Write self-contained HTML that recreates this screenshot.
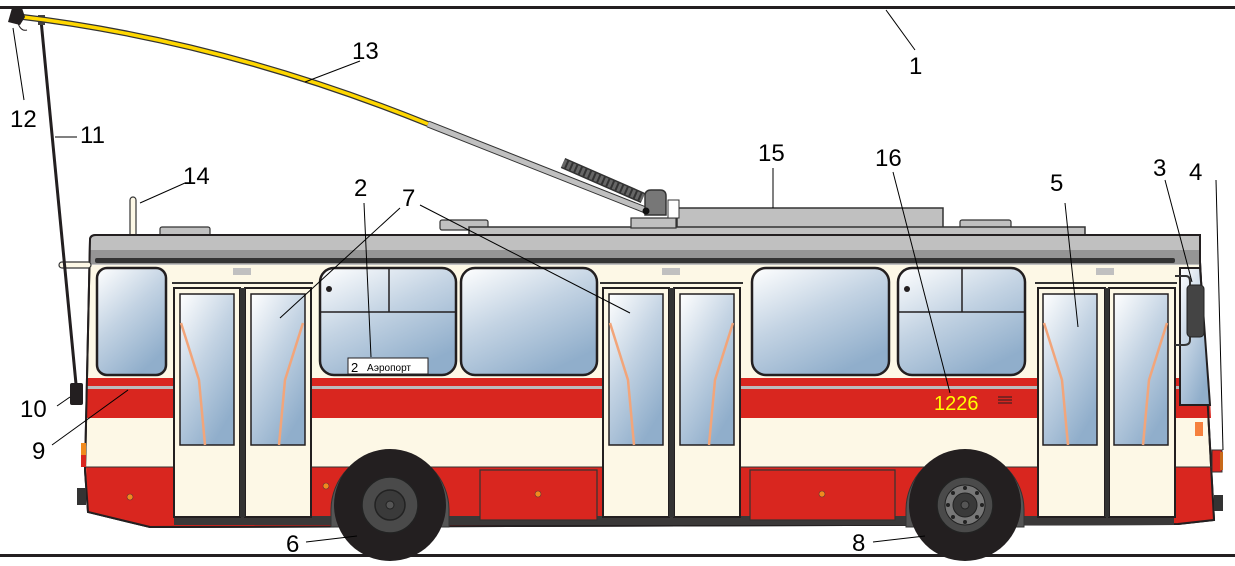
<!DOCTYPE html>
<html><head><meta charset="utf-8"><style>
html,body{margin:0;padding:0;background:#fff;}
svg{display:block;}
text{font-family:"Liberation Sans",sans-serif;}
</style></head><body>
<svg width="1235" height="566" viewBox="0 0 1235 566" xmlns="http://www.w3.org/2000/svg">
<defs>
<linearGradient id="gl" x1="0" y1="0" x2="0.6" y2="1">
<stop offset="0" stop-color="#ffffff"/><stop offset="0.5" stop-color="#c3d3e3"/><stop offset="1" stop-color="#90aecb"/>
</linearGradient>
</defs>
<rect x="0" y="6" width="1235" height="3" fill="#231f20"/>
<rect x="0" y="554" width="1235" height="3" fill="#231f20"/>

<rect x="677" y="208" width="266" height="20" fill="#c0c0c0" stroke="#333" stroke-width="1.5"/>
<rect x="440" y="220" width="48" height="10" rx="2" fill="#c0c0c0" stroke="#333" stroke-width="1.2"/>
<rect x="960" y="220" width="51" height="10" rx="2" fill="#c0c0c0" stroke="#333" stroke-width="1.2"/>
<rect x="160" y="227" width="50" height="9" rx="2" fill="#c0c0c0" stroke="#333" stroke-width="1.2"/>
<rect x="469" y="227" width="616" height="14" fill="#c0c0c0" stroke="#333" stroke-width="1.5"/>
<rect x="631" y="218" width="45" height="10" fill="#c0c0c0" stroke="#333" stroke-width="1.2"/>
<rect x="668" y="200" width="11" height="18" fill="#fff" stroke="#333" stroke-width="1"/>
<rect x="130" y="197" width="6" height="40" rx="3" fill="#fdf8e6" stroke="#333" stroke-width="1.2"/>

<path d="M90 240 Q90 235 96 235 L1200 235 L1200 262 L1214 520 L1178 524 L150 527 L88 512 L85 470 Z" fill="#fdf8e6" stroke="#231f20" stroke-width="2"/>
<path d="M90 240 Q90 235 96 235 L1200 235 L1200 265 L89 265 Z" fill="#c0c0c0"/>
<rect x="89" y="250" width="1111" height="14" fill="#959595"/>
<rect x="95" y="258" width="1080" height="5" rx="2" fill="#333"/>
<path d="M86 378 L1209 378 L1211 418 L86 418 Z" fill="#d9261f"/>
<path d="M86 467 L1212 467 L1214 520 L1178 524 L150 527 L88 512 Z" fill="#d9261f"/>
<rect x="86" y="386" width="1120" height="3" fill="#bcbcbc"/>
<path d="M90 240 Q90 235 96 235 L1200 235 L1200 262 L1214 520 L1178 524 L150 527 L88 512 L85 470 Z" fill="none" stroke="#231f20" stroke-width="2"/>
<line x1="86" y1="467" x2="1212" y2="467" stroke="#333" stroke-width="1"/>
<rect x="174" y="516" width="1000" height="9" fill="#3a3838"/>

<!-- wheel arches -->
<path d="M331 527 L331 510 A59 59 0 0 1 449 510 L449 527 Z" fill="#555" stroke="#333" stroke-width="1"/>
<path d="M906 527 L906 510 A59 59 0 0 1 1024 510 L1024 527 Z" fill="#555" stroke="#333" stroke-width="1"/>

<rect x="480" y="470" width="117" height="50" fill="#d9261f" stroke="#333" stroke-width="1.2"/>
<rect x="750" y="470" width="145" height="50" fill="#d9261f" stroke="#333" stroke-width="1.2"/>
<circle cx="130" cy="497" r="3" fill="#f08a1e" stroke="#633" stroke-width="0.6"/>
<circle cx="326" cy="486" r="3" fill="#f08a1e" stroke="#633" stroke-width="0.6"/>
<circle cx="538" cy="494" r="3" fill="#f08a1e" stroke="#633" stroke-width="0.6"/>
<circle cx="822" cy="494" r="3" fill="#f08a1e" stroke="#633" stroke-width="0.6"/>

<g stroke="#231f20" stroke-width="2.5" fill="url(#gl)">
<rect x="97" y="268" width="69" height="107" rx="10"/>
<rect x="320" y="268" width="136" height="107" rx="14"/>
<rect x="461" y="268" width="136" height="107" rx="14"/>
<rect x="752" y="268" width="137" height="107" rx="14"/>
<rect x="898" y="268" width="127" height="107" rx="14"/>
</g>
<g stroke="#231f20" stroke-width="1.5">
<line x1="320" y1="312" x2="456" y2="312"/><line x1="389" y1="268" x2="389" y2="312"/>
<line x1="898" y1="312" x2="1025" y2="312"/><line x1="962" y1="268" x2="962" y2="312"/>
</g>
<circle cx="329" cy="289" r="3" fill="#231f20"/>
<circle cx="907" cy="289" r="3" fill="#231f20"/>
<rect x="233" y="268" width="18" height="7" fill="#c0c0c0"/>
<rect x="662" y="268" width="18" height="7" fill="#c0c0c0"/>
<rect x="1096" y="268" width="18" height="7" fill="#c0c0c0"/>
<g stroke="#333" stroke-width="2"><line x1="172" y1="283" x2="313" y2="283"/><line x1="600" y1="283" x2="743" y2="283"/><line x1="1035" y1="283" x2="1177" y2="283"/></g>

<g stroke="#231f20" stroke-width="2" fill="#fdf8e6">
<rect x="174" y="288" width="66" height="229"/><rect x="245" y="288" width="66" height="229"/>
<rect x="603" y="288" width="66" height="229"/><rect x="674" y="288" width="66" height="229"/>
<rect x="1038" y="288" width="67" height="229"/><rect x="1109" y="288" width="66" height="229"/>
</g>
<rect x="240" y="288" width="5" height="229" fill="#333"/>
<rect x="669" y="288" width="5" height="229" fill="#333"/>
<rect x="1105" y="288" width="4" height="229" fill="#333"/>
<g stroke="#231f20" stroke-width="1.5" fill="url(#gl)">
<rect x="180" y="294" width="54" height="151"/><rect x="251" y="294" width="54" height="151"/>
<rect x="609" y="294" width="54" height="151"/><rect x="680" y="294" width="54" height="151"/>
<rect x="1043" y="294" width="54" height="151"/><rect x="1114" y="294" width="54" height="151"/>
</g>
<g stroke="#f2a57a" stroke-width="2.5" fill="none">
<polyline points="181,323 199,380 205,445"/><polyline points="303,323 285,380 279,445"/>
<polyline points="610,323 628,380 634,445"/><polyline points="733,323 715,380 709,445"/>
<polyline points="1044,323 1062,380 1068,445"/><polyline points="1167,323 1149,380 1143,445"/>
</g>

<path d="M1180 268 L1200 268 L1210 405 L1180 405 Z" fill="url(#gl)" stroke="#231f20" stroke-width="2"/>
<path d="M1175 276 L1186 276 Q1190 276 1190 282 L1190 340 Q1190 345 1184 345 L1175 345" fill="none" stroke="#333" stroke-width="2"/>
<rect x="1187" y="285" width="17" height="52" rx="4" fill="#444" stroke="#222" stroke-width="1"/>
<rect x="1195" y="422" width="8" height="14" fill="#f5813e"/>
<rect x="1212" y="450" width="10" height="22" fill="#d9261f" stroke="#333" stroke-width="1"/>
<rect x="1220" y="452" width="3" height="18" fill="#c86a1a"/>
<rect x="1214" y="495" width="9" height="16" fill="#333"/>
<rect x="81" y="443" width="5" height="12" fill="#f08a1e"/>
<rect x="81" y="455" width="5" height="12" fill="#d9261f"/>
<rect x="77" y="488" width="9" height="17" fill="#333"/>
<rect x="70" y="383" width="13" height="22" rx="2" fill="#231f20"/>

<circle cx="390" cy="505" r="56" fill="#231f20"/>
<circle cx="390" cy="505" r="28" fill="#4a4a4a" stroke="#222" stroke-width="1.5"/>
<circle cx="390" cy="505" r="15" fill="#3a3a3a" stroke="#222" stroke-width="1.5"/>
<circle cx="390" cy="505" r="4" fill="#555" stroke="#222"/>
<circle cx="965" cy="505" r="56" fill="#231f20"/>
<circle cx="965" cy="505" r="28" fill="#4a4a4a" stroke="#222" stroke-width="1.5"/>
<circle cx="965" cy="505" r="20" fill="#777" stroke="#222" stroke-width="1"/>
<circle cx="965" cy="505" r="12" fill="#3a3a3a" stroke="#222"/>
<circle cx="965" cy="505" r="4" fill="#555" stroke="#222"/>
<g fill="#222"><circle cx="965" cy="488" r="2"/><circle cx="965" cy="522" r="2"/><circle cx="948" cy="505" r="2"/><circle cx="982" cy="505" r="2"/><circle cx="953" cy="493" r="2"/><circle cx="977" cy="517" r="2"/><circle cx="977" cy="493" r="2"/><circle cx="953" cy="517" r="2"/></g>

<rect x="348" y="358" width="80" height="16" fill="#fff" stroke="#231f20" stroke-width="1"/>
<text x="351" y="372" font-size="13">2</text>
<text x="367" y="371" font-size="10">Аэропорт</text>
<text x="934" y="410" font-size="20" fill="#ffff00">1226</text>
<g stroke="#231f20" stroke-width="1"><line x1="998" y1="397" x2="1012" y2="397"/><line x1="998" y1="400" x2="1012" y2="400"/><line x1="998" y1="403" x2="1012" y2="403"/></g>

<rect x="59" y="262" width="32" height="6" rx="3" fill="#fdf8e6" stroke="#333" stroke-width="1.2"/>
<line x1="41" y1="20" x2="76" y2="384" stroke="#231f20" stroke-width="3"/>
<rect x="38" y="15" width="7" height="10" fill="#444"/>
<path d="M15 16 Q220 40 428 124" fill="none" stroke="#333" stroke-width="6"/>
<path d="M15 16 Q220 40 428 124" fill="none" stroke="#ffd700" stroke-width="3.5"/>
<line x1="428" y1="124" x2="648" y2="211" stroke="#333" stroke-width="7"/>
<line x1="428" y1="124" x2="648" y2="211" stroke="#c0c0c0" stroke-width="5"/>
<line x1="563" y1="163" x2="643" y2="198" stroke="#333" stroke-width="11"/>
<line x1="563" y1="163" x2="643" y2="198" stroke="#666" stroke-width="8" stroke-dasharray="3 2"/>
<path d="M645 215 L645 196 Q645 190 651 190 L660 190 Q666 190 666 196 L666 215 Z" fill="#777" stroke="#333" stroke-width="1.5"/>
<circle cx="646" cy="211" r="3.5" fill="#111"/>
<path d="M8 22 L12 8 L22 8 L25 17 L20 25 Z" fill="#231f20"/>
<path d="M17 20 Q20 32 27 30" fill="none" stroke="#231f20" stroke-width="1"/>

<g stroke="#000" stroke-width="1" fill="none">
<line x1="886" y1="10" x2="915" y2="50"/>
<line x1="305" y1="82" x2="360" y2="61"/>
<line x1="13" y1="28" x2="24" y2="100"/>
<line x1="55" y1="137" x2="77" y2="137"/>
<line x1="140" y1="203" x2="185" y2="183"/>
<line x1="364" y1="203" x2="371" y2="357"/>
<line x1="400" y1="208" x2="280" y2="318"/>
<line x1="420" y1="205" x2="630" y2="313"/>
<line x1="773" y1="168" x2="773" y2="208"/>
<line x1="893" y1="172" x2="950" y2="393"/>
<line x1="1065" y1="203" x2="1078" y2="327"/>
<line x1="1165" y1="180" x2="1192" y2="282"/>
<line x1="1216" y1="180" x2="1223" y2="450"/>
<line x1="57" y1="406" x2="70" y2="397"/>
<line x1="52" y1="445" x2="128" y2="390"/>
<line x1="306" y1="542" x2="357" y2="536"/>
<line x1="873" y1="542" x2="925" y2="536"/>
</g>
<g font-size="24" fill="#000">
<text x="909" y="74">1</text>
<text x="352" y="59">13</text>
<text x="10" y="127">12</text>
<text x="80" y="143">11</text>
<text x="183" y="184">14</text>
<text x="354" y="196">2</text>
<text x="402" y="206">7</text>
<text x="758" y="161">15</text>
<text x="875" y="166">16</text>
<text x="1050" y="191">5</text>
<text x="1153" y="176">3</text>
<text x="1189" y="180">4</text>
<text x="20" y="417">10</text>
<text x="32" y="459">9</text>
<text x="286" y="552">6</text>
<text x="852" y="551">8</text>
</g>
</svg>
</body></html>
